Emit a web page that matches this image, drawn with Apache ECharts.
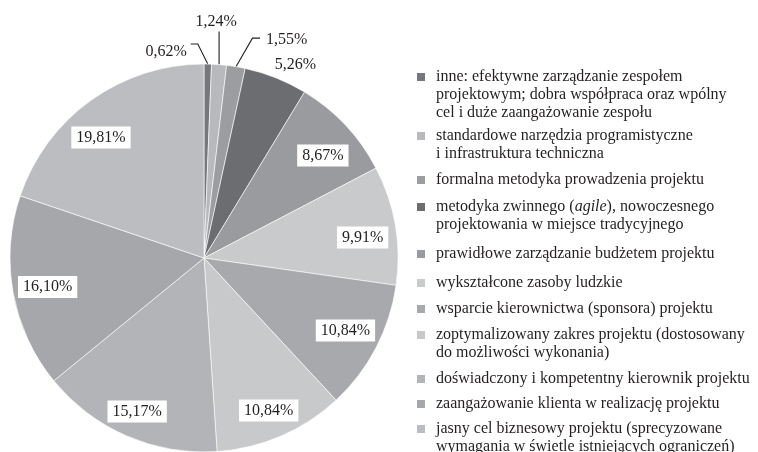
<!DOCTYPE html>
<html>
<head>
<meta charset="utf-8">
<script src="https://cdn.jsdelivr.net/npm/echarts@6/dist/echarts.min.js"></script>
<style>
  html, body { margin: 0; padding: 0; background: #fff; }
  #chart { width: 758px; height: 452px; }
</style>
</head>
<body>
<div id="chart"></div>
<script>
const names = [
  "inne: efektywne zarządzanie zespołem\nprojektowym; dobra współpraca oraz wpólny\ncel i duże zaangażowanie zespołu",
  "standardowe narzędzia programistyczne\ni infrastruktura techniczna",
  "formalna metodyka prowadzenia projektu",
  "metodyka zwinnego (agile), nowoczesnego\nprojektowania w miejsce tradycyjnego",
  "prawidłowe zarządzanie budżetem projektu",
  "wykształcone zasoby ludzkie",
  "wsparcie kierownictwa (sponsora) projektu",
  "zoptymalizowany zakres projektu (dostosowany\ndo możliwości wykonania)",
  "doświadczony i kompetentny kierownik projektu",
  "zaangażowanie klienta w realizację projektu",
  "jasny cel biznesowy projektu (sprecyzowane\nwymagania w świetle istniejących ograniczeń)"
];
const values = [0.62, 1.24, 1.55, 5.26, 8.67, 9.91, 10.84, 10.84, 15.17, 16.10, 19.81];
const colors = [
  "#76777a", "#b8b9bc", "#9c9da0", "#6c6d70", "#9a9b9e", "#c9cacc",
  "#a8a9ac", "#c8c9cb", "#b3b4b7", "#a6a7aa", "#bcbdc0"
];
// y of the first text line of each legend entry
const legendRows = [77, 136, 180, 207, 254, 283, 309, 335, 379, 404, 429];

const font = "Liberation Serif";
const textColor = "#231f20";
const fmt = (v) => v.toFixed(2).replace(".", ",") + "%";

// small slices get their labels outside with leader lines
const outerCount = 4;
// label / leader offsets from the slice edge point
const outerLabels = [
  { line: [[-10, -20], [-17, -20]], text: [-21, -12], align: "right" },
  { line: [[0, -33]], text: [-3, -43], align: "center" },
  { line: [[16.5, -28.5], [24, -28.5]], text: [30, -27], align: "left" },
  { line: null, text: [-1, -13], align: "left" }
];
// small nudges of the boxed labels (by data index)
const innerNudge = {
  4: [0, 9], 5: [-2, 7], 6: [-3, -3], 7: [0, 3], 8: [-2, 4], 9: [4, 0], 10: [-8, 12]
};

const pieData = values.map((v, i) => ({
  name: names[i],
  value: v,
  itemStyle: { color: colors[i] },
  label: { show: i < outerCount },
  labelLine: { show: i < 3 }
}));

const labelData = values.map((v, i) => ({
  name: names[i],
  value: v,
  label: { show: i >= outerCount }
}));

const legends = names.map((name, i) => {
  const lines = name.split("\n").length;
  const h = (lines - 1) * 18 + 8;
  return {
    orient: "vertical",
    left: 417,
    top: legendRows[i] - 9,
    padding: 0,
    itemWidth: 8,
    itemHeight: h,
    selectedMode: false,
    data: [{
      name: name,
      icon: lines === 1 ? "rect" : "path://M0,0h8v8h-8zM0," + h + "h8"
    }],
    itemStyle: { borderWidth: 0 },
    formatter: (n) => n.replace("agile", "{i|agile}"),
    textStyle: {
      fontFamily: font,
      fontSize: 16,
      lineHeight: 18,
      color: textColor,
      padding: [0, 0, 0, 6],
      rich: {
        i: { fontFamily: font, fontSize: 16, lineHeight: 18, fontStyle: "italic", color: textColor }
      }
    }
  };
});

const chart = echarts.init(document.getElementById("chart"), null, { renderer: "canvas" });

chart.setOption({
  backgroundColor: "#ffffff",
  animation: false,
  legend: legends,
  series: [
    {
      type: "pie",
      center: [204, 258],
      radius: [0, 194],
      startAngle: 90,
      clockwise: true,
      avoidLabelOverlap: false,
      silent: true,
      itemStyle: { borderColor: "#ffffff", borderWidth: 0.6 },
      label: {
        position: "outside",
        formatter: (p) => fmt(p.value),
        fontFamily: font,
        fontSize: 16,
        color: textColor
      },
      labelLine: {
        length: 20,
        length2: 8,
        lineStyle: { color: "#231f20", width: 1.1 }
      },
      labelLayout: (p) => {
        const cfg = outerLabels[p.dataIndex];
        if (!cfg || !p.labelLinePoints) return {};
        const p0 = p.labelLinePoints[0];
        const out = {
          x: p0[0] + cfg.text[0],
          y: p0[1] + cfg.text[1],
          align: cfg.align,
          verticalAlign: "middle"
        };
        if (cfg.line) {
          out.labelLinePoints = [p0].concat(cfg.line.map((d) => [p0[0] + d[0], p0[1] + d[1]]));
        }
        return out;
      },
      data: pieData
    },
    {
      // transparent ring used only to place the boxed labels at ~0.82 R
      type: "pie",
      center: [204, 258],
      radius: [126, 194],
      startAngle: 90,
      clockwise: true,
      avoidLabelOverlap: false,
      silent: true,
      itemStyle: { color: "rgba(0,0,0,0)", borderWidth: 0 },
      label: {
        position: "inside",
        formatter: (p) => fmt(p.value),
        fontFamily: font,
        fontSize: 16,
        color: textColor,
        backgroundColor: "#ffffff",
        padding: [3, 5]
      },
      labelLine: { show: false },
      labelLayout: (p) => {
        const n = innerNudge[p.dataIndex];
        return n ? { dx: n[0], dy: n[1] } : {};
      },
      data: labelData
    }
  ]
});
</script>
</body>
</html>
